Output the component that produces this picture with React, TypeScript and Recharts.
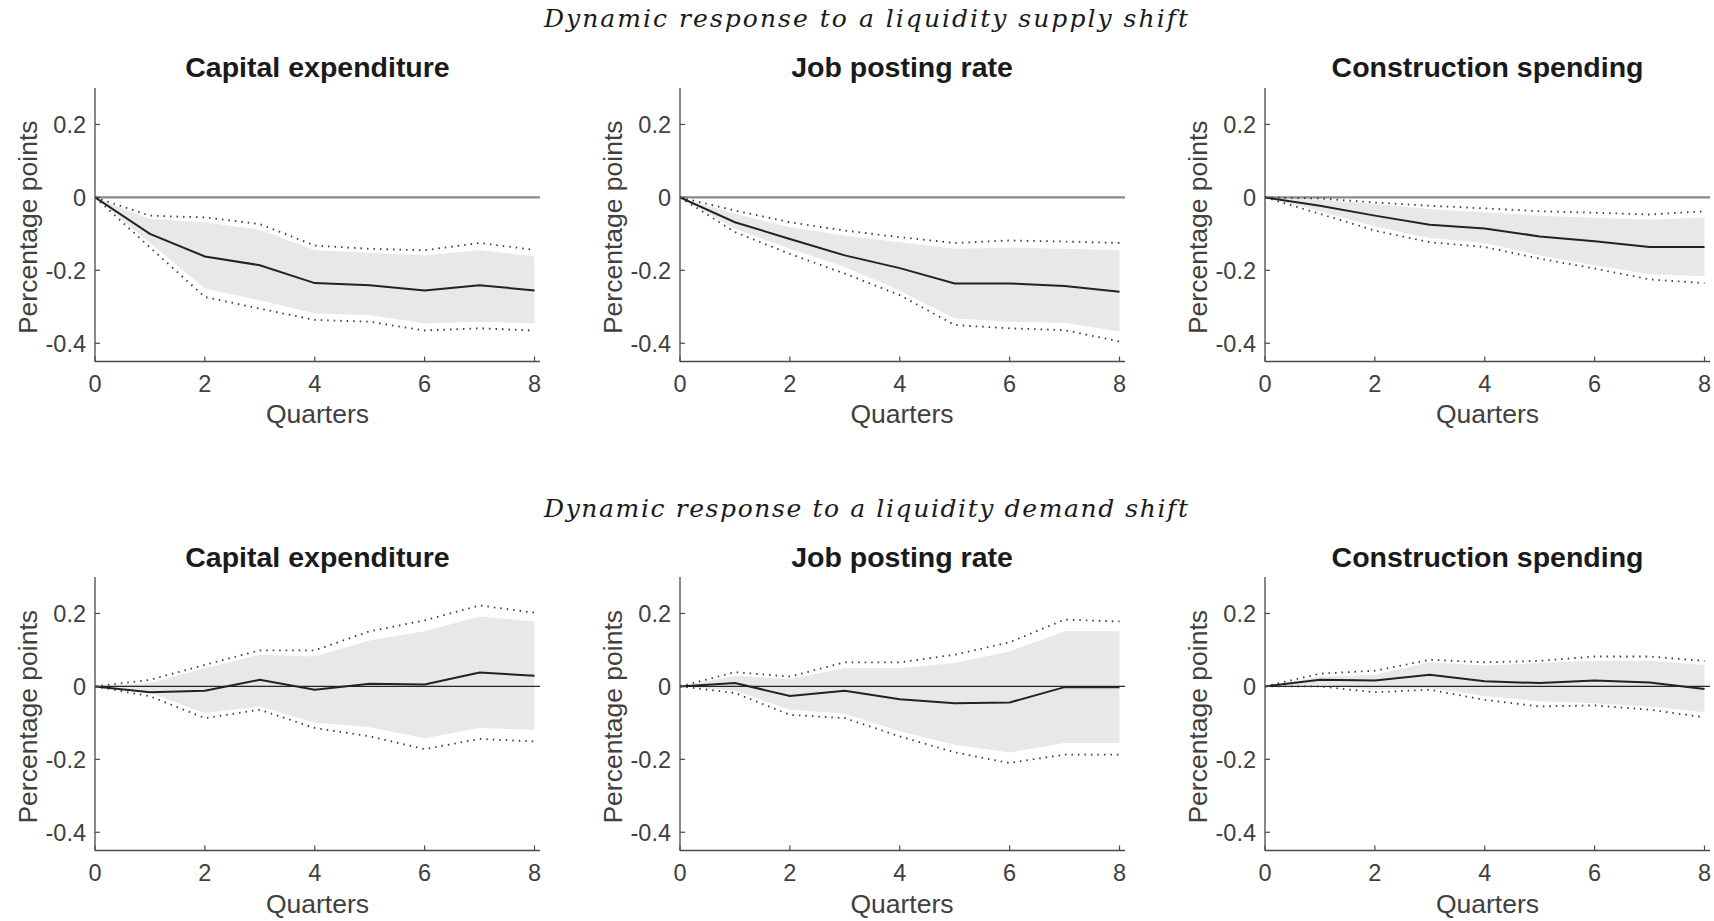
import { ComposedChart, Area, Line, XAxis, YAxis, ReferenceLine } from 'recharts'

// horizon in quarters
const quarters = [0, 1, 2, 3, 4, 5, 6, 7, 8]
const xTicks = [0, 2, 4, 6, 8]
const yTicks = [-0.4, -0.2, 0, 0.2]

const rowTitles = [
  'Dynamic response to a liquidity supply shift',
  'Dynamic response to a liquidity demand shift',
]
const panelTitles = ['Capital expenditure', 'Job posting rate', 'Construction spending']

// liquidity supply shift
const sCapMid = [0, -0.1, -0.162, -0.186, -0.235, -0.241, -0.255, -0.241, -0.255]
const sCapBandHi = [0, -0.059, -0.068, -0.089, -0.145, -0.152, -0.159, -0.144, -0.162]
const sCapBandLo = [0, -0.125, -0.25, -0.282, -0.318, -0.323, -0.345, -0.341, -0.345]
const sCapCiHi = [0, -0.05, -0.055, -0.073, -0.132, -0.141, -0.145, -0.125, -0.144]
const sCapCiLo = [0, -0.137, -0.273, -0.305, -0.336, -0.341, -0.365, -0.359, -0.365]

const sJobMid = [0, -0.068, -0.114, -0.159, -0.194, -0.236, -0.236, -0.243, -0.259]
const sJobBandHi = [0, -0.045, -0.082, -0.105, -0.123, -0.141, -0.138, -0.141, -0.144]
const sJobBandLo = [0, -0.086, -0.141, -0.191, -0.255, -0.332, -0.341, -0.344, -0.368]
const sJobCiHi = [0, -0.036, -0.068, -0.091, -0.109, -0.125, -0.118, -0.121, -0.125]
const sJobCiLo = [0, -0.095, -0.155, -0.209, -0.268, -0.35, -0.359, -0.364, -0.395]

const sConMid = [0, -0.023, -0.05, -0.075, -0.085, -0.107, -0.12, -0.136, -0.136]
const sConBandHi = [0, -0.006, -0.018, -0.032, -0.041, -0.05, -0.056, -0.061, -0.055]
const sConBandLo = [0, -0.038, -0.08, -0.111, -0.125, -0.159, -0.186, -0.211, -0.216]
const sConCiHi = [0, -0.003, -0.014, -0.023, -0.03, -0.038, -0.042, -0.047, -0.038]
const sConCiLo = [0, -0.045, -0.091, -0.123, -0.136, -0.168, -0.195, -0.225, -0.235]

// liquidity demand shift
const dCapMid = [0, -0.016, -0.012, 0.018, -0.009, 0.007, 0.005, 0.038, 0.029]
const dCapBandHi = [0, 0.009, 0.05, 0.087, 0.082, 0.126, 0.151, 0.192, 0.178]
const dCapBandLo = [0, -0.018, -0.073, -0.055, -0.1, -0.112, -0.142, -0.114, -0.119]
const dCapCiHi = [0, 0.018, 0.059, 0.099, 0.099, 0.151, 0.181, 0.222, 0.202]
const dCapCiLo = [0, -0.027, -0.087, -0.064, -0.114, -0.137, -0.172, -0.144, -0.151]

const dJobMid = [0, 0.009, -0.026, -0.012, -0.035, -0.046, -0.044, -0.002, -0.002]
const dJobBandHi = [0, 0.029, 0.02, 0.05, 0.05, 0.064, 0.096, 0.151, 0.151]
const dJobBandLo = [0, -0.011, -0.064, -0.075, -0.123, -0.16, -0.181, -0.155, -0.155]
const dJobCiHi = [0, 0.039, 0.027, 0.066, 0.066, 0.087, 0.121, 0.183, 0.178]
const dJobCiLo = [0, -0.018, -0.078, -0.087, -0.137, -0.181, -0.21, -0.187, -0.187]

const dConMid = [0, 0.018, 0.016, 0.032, 0.014, 0.009, 0.016, 0.011, -0.007]
const dConBandHi = [0, 0.027, 0.032, 0.066, 0.057, 0.064, 0.07, 0.07, 0.059]
const dConBandLo = [0, 0.005, -0.009, -0.005, -0.026, -0.041, -0.046, -0.055, -0.071]
const dConCiHi = [0, 0.035, 0.043, 0.073, 0.066, 0.07, 0.082, 0.082, 0.07]
const dConCiLo = [0, 0, -0.016, -0.009, -0.037, -0.055, -0.052, -0.064, -0.085]

const panels = [
  { row: 0, col: 0, mid: sCapMid, bandLo: sCapBandLo, bandHi: sCapBandHi, ciLo: sCapCiLo, ciHi: sCapCiHi },
  { row: 0, col: 1, mid: sJobMid, bandLo: sJobBandLo, bandHi: sJobBandHi, ciLo: sJobCiLo, ciHi: sJobCiHi },
  { row: 0, col: 2, mid: sConMid, bandLo: sConBandLo, bandHi: sConBandHi, ciLo: sConCiLo, ciHi: sConCiHi },
  { row: 1, col: 0, mid: dCapMid, bandLo: dCapBandLo, bandHi: dCapBandHi, ciLo: dCapCiLo, ciHi: dCapCiHi },
  { row: 1, col: 1, mid: dJobMid, bandLo: dJobBandLo, bandHi: dJobBandHi, ciLo: dJobCiLo, ciHi: dJobCiHi },
  { row: 1, col: 2, mid: dConMid, bandLo: dConBandLo, bandHi: dConBandHi, ciLo: dConCiLo, ciHi: dConCiHi },
]

// layout (plot box positions on the page)
const BOX_LEFT = [95, 679.5, 1265]
const BOX_TOP = [87.5, 577]
const BOX_W = 445
const BOX_H = 273.5
const Y_AXIS_W = 85
const X_AXIS_H = 70
const M_TOP = 10
const M_RIGHT = 10
const TM = 12

const font = "'Liberation Sans', Arial, Helvetica, sans-serif"
const axisColor = '#4a4a4a'
const textColor = '#404040'
const tickFont = 23.5

function BottomTick(props: any) {
  const { x, y, payload } = props
  const ay = y - TM
  return (
    <g>
      <line x1={x} x2={x} y1={ay} y2={ay - 5} stroke={axisColor} strokeWidth={1.2} />
      <text x={x} y={ay + 30.5} textAnchor="middle" fontSize={tickFont} fill={textColor} fontFamily={font}>
        {payload.value}
      </text>
    </g>
  )
}

function TopTick(props: any) {
  const { x, y } = props
  const ay = y + TM
  return <line x1={x} x2={x} y1={ay} y2={ay + 5} stroke={axisColor} strokeWidth={1.2} />
}

function LeftTick(props: any) {
  const { x, y, payload } = props
  const ax = x + TM
  return (
    <g>
      <line x1={ax} x2={ax + 5} y1={y} y2={y} stroke={axisColor} strokeWidth={1.2} />
      <text x={ax - 9} y={y} dy="0.36em" textAnchor="end" fontSize={tickFont} fill={textColor} fontFamily={font}>
        {payload.value}
      </text>
    </g>
  )
}

function RightTick(props: any) {
  const { x, y } = props
  const ax = x - TM
  return <line x1={ax} x2={ax - 5} y1={y} y2={y} stroke={axisColor} strokeWidth={1.2} />
}

function Panel({ p }: { p: (typeof panels)[number] }) {
  const data = quarters.map((q, i) => ({
    q,
    mid: p.mid[i],
    band: [p.bandLo[i], p.bandHi[i]],
    lo: p.ciLo[i],
    hi: p.ciHi[i],
  }))
  const left = BOX_LEFT[p.col] - Y_AXIS_W
  const top = BOX_TOP[p.row] - M_TOP
  return (
    <div style={{ position: 'absolute', left, top }}>
      <ComposedChart
        width={Y_AXIS_W + BOX_W + M_RIGHT}
        height={M_TOP + BOX_H + X_AXIS_H}
        data={data}
        margin={{ top: M_TOP, right: M_RIGHT, bottom: 0, left: 0 }}
      >
        <XAxis
          dataKey="q"
          type="number"
          domain={[0, 8.1]}
          ticks={xTicks}
          allowDataOverflow
          height={X_AXIS_H}
          tickSize={0}
          tickMargin={TM}
          tickLine={false}
          axisLine={{ stroke: axisColor, strokeWidth: 1.3 }}
          tick={BottomTick}
        />
        <XAxis
          xAxisId="top"
          orientation="top"
          type="number"
          domain={[0, 8.1]}
          ticks={xTicks}
          allowDataOverflow
          height={0}
          tickSize={0}
          tickMargin={TM}
          tickLine={false}
          axisLine={{ stroke: axisColor, strokeWidth: 1.3 }}
          tick={TopTick}
        />
        <YAxis
          type="number"
          domain={[-0.45, 0.3]}
          ticks={yTicks}
          allowDataOverflow
          width={Y_AXIS_W}
          tickSize={0}
          tickMargin={TM}
          tickLine={false}
          axisLine={{ stroke: axisColor, strokeWidth: 1.3 }}
          tick={LeftTick}
        />
        <YAxis
          yAxisId="right"
          orientation="right"
          type="number"
          domain={[-0.45, 0.3]}
          ticks={yTicks}
          allowDataOverflow
          width={0}
          tickSize={0}
          tickMargin={TM}
          tickLine={false}
          axisLine={{ stroke: axisColor, strokeWidth: 1.3 }}
          tick={RightTick}
        />
        <Area
          type="linear"
          dataKey="band"
          stroke="none"
          fill="#e8e8e8"
          fillOpacity={1}
          dot={false}
          activeDot={false}
          isAnimationActive={false}
        />
        <ReferenceLine
          y={0}
          stroke={p.row === 0 ? '#8a8a8a' : '#262626'}
          strokeWidth={p.row === 0 ? 2.2 : 1.4}
        />
        <Line type="linear" dataKey="hi" stroke="#3a3a3a" strokeWidth={1.8} strokeDasharray="1.5 5" dot={false} isAnimationActive={false} />
        <Line type="linear" dataKey="lo" stroke="#3a3a3a" strokeWidth={1.8} strokeDasharray="1.5 5" dot={false} isAnimationActive={false} />
        <Line type="linear" dataKey="mid" stroke="#222222" strokeWidth={2} dot={false} isAnimationActive={false} />
      </ComposedChart>
    </div>
  )
}

export default function App() {
  return (
    <div style={{ position: 'absolute', left: 0, top: 0, width: 1714, height: 921, background: '#fff' }}>
      {panels.map((p, i) => (
        <Panel key={i} p={p} />
      ))}
      <svg width={1714} height={921} style={{ position: 'absolute', left: 0, top: 0, pointerEvents: 'none' }}>
        {rowTitles.map((t, r) => (
          <text
            key={t}
            x={866}
            y={(r === 0 ? 18.6 : 508.3) + 8.5}
            textAnchor="middle"
            fontSize={25}
            fontStyle="italic"
            fontFamily="'DejaVu Serif', 'Liberation Serif', serif"
            fill="#1a1a1a"
            textLength={644}
            lengthAdjust="spacing"
          >
            {t}
          </text>
        ))}
        {panels.map((p, i) => {
          const cx = BOX_LEFT[p.col] + BOX_W / 2
          const top = BOX_TOP[p.row]
          const bottom = top + BOX_H
          const yMid = top + BOX_H / 2 + 3
          const lx = BOX_LEFT[p.col] - 58
          return (
            <g key={i} fontFamily={font}>
              <text x={cx} y={top - 10.2} textAnchor="middle" fontSize={28.5} fontWeight="bold" fill="#1a1a1a">
                {panelTitles[p.col]}
              </text>
              <text x={cx} y={bottom + 62} textAnchor="middle" fontSize={26.5} fill={textColor}>
                Quarters
              </text>
              <text
                x={lx}
                y={yMid}
                textAnchor="middle"
                fontSize={26.5}
                fill={textColor}
                transform={`rotate(-90 ${lx} ${yMid})`}
              >
                Percentage points
              </text>
            </g>
          )
        })}
      </svg>
    </div>
  )
}
